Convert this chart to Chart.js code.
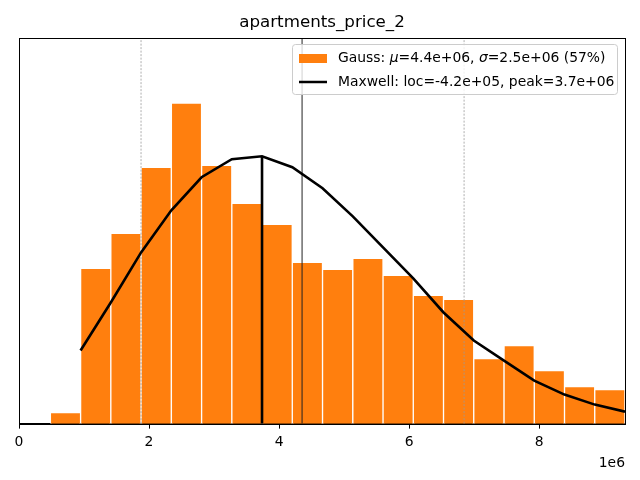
<!DOCTYPE html>
<html>
<head>
<meta charset="utf-8">
<script src="https://cdn.jsdelivr.net/npm/chart.js@4"></script>
<style>
  html, body { margin: 0; padding: 0; background: #fff; }
  canvas { display: block; }
</style>
</head>
<body>
<canvas id="c" width="640" height="480"></canvas>
<script>
// ---- data (x in currency units, heights in relative count units) ----
const binCenters = [0.715e6, 1.180e6, 1.645e6, 2.110e6, 2.576e6, 3.041e6, 3.506e6, 3.971e6, 4.436e6, 4.901e6,
                    5.367e6, 5.832e6, 6.297e6, 6.762e6, 7.227e6, 7.693e6, 8.158e6, 8.623e6, 9.088e6];
const binCounts  = [11, 155, 190, 256, 320, 258, 220, 199, 161, 154, 165, 148, 128, 124, 65, 78, 53, 37, 34];

const curveX = [0.947e6, 1.412e6, 1.878e6, 2.343e6, 2.808e6, 3.273e6, 3.738e6, 4.204e6, 4.669e6, 5.134e6,
                5.599e6, 6.064e6, 6.530e6, 6.995e6, 7.460e6, 7.925e6, 8.390e6, 8.856e6, 9.321e6];
const curveY = [73, 121, 171, 213, 246, 264, 267, 256, 235, 207, 176, 145, 111, 83, 63, 43, 29, 19, 12];

const meanX = 4.354e6;
const sigmaLowX = 1.877e6;
const sigmaHighX = 6.846e6;
const peakX = 3.738e6;
const peakY = 267;

const xTickLabels = [0, 2, 4, 6, 8];   // in units of 1e6
const xMin = 0, xMax = 9.321e6, yMax = 385;

const legendLabels = [
  [["Gauss: ", false], ["\u03bc", true], ["=4.4e+06, ", false], ["\u03c3", true], ["=2.5e+06 (57%)", false]],
  [["Maxwell: loc=-4.2e+05, peak=3.7e+06", false]]
];

const FONT = "'DejaVu Sans', sans-serif";
Chart.defaults.font.family = FONT;
Chart.defaults.color = '#000';

const framePlugin = {
  id: 'frame',
  afterDatasetsDraw(chart) {
    const {ctx, chartArea: a} = chart;
    ctx.save();
    ctx.strokeStyle = '#000';
    ctx.lineWidth = 1;
    ctx.strokeRect(Math.round(a.left) + 0.5, Math.round(a.top) + 0.5,
                   Math.round(a.right) - Math.round(a.left), Math.round(a.bottom) - Math.round(a.top));
    ctx.restore();
  }
};

const legendPlugin = {
  id: 'mplLegend',
  afterDraw(chart) {
    const ctx = chart.ctx;
    ctx.save();
    const bx = 292.5, by = 44.5, bw = 325, bh = 50, r = 3;
    ctx.beginPath();
    ctx.moveTo(bx + r, by);
    ctx.arcTo(bx + bw, by, bx + bw, by + bh, r);
    ctx.arcTo(bx + bw, by + bh, bx, by + bh, r);
    ctx.arcTo(bx, by + bh, bx, by, r);
    ctx.arcTo(bx, by, bx + bw, by, r);
    ctx.closePath();
    ctx.fillStyle = 'rgba(255,255,255,0.8)';
    ctx.fill();
    ctx.strokeStyle = '#cccccc';
    ctx.lineWidth = 1;
    ctx.stroke();

    // entry 1: patch
    ctx.fillStyle = '#ff7f0e';
    ctx.fillRect(299, 54, 28, 9);
    // entry 2: line
    ctx.strokeStyle = '#000';
    ctx.lineWidth = 2.5;
    ctx.beginPath();
    ctx.moveTo(299, 82);
    ctx.lineTo(327, 82);
    ctx.stroke();

    ctx.fillStyle = '#000';
    ctx.textBaseline = 'middle';
    const ys = [58.5, 82];
    legendLabels.forEach((parts, i) => {
      let x = 338;
      parts.forEach(([t, it]) => {
        ctx.font = (it ? 'italic ' : '') + '13.9px ' + FONT;
        ctx.fillText(t, x, ys[i]);
        x += ctx.measureText(t).width;
      });
    });
    ctx.restore();
  }
};

const vline = (x, y1, color, width, dash) => ({
  type: 'line',
  data: [{x: x, y: 0}, {x: x, y: y1}],
  borderColor: color,
  borderWidth: width,
  borderDash: dash,
  pointRadius: 0,
  fill: false,
  order: 1
});

new Chart(document.getElementById('c'), {
  data: {
    datasets: [
      {
        type: 'bar',
        data: binCenters.map((x, i) => ({x: x, y: binCounts[i]})),
        backgroundColor: '#ff7f0e',
        borderColor: '#ffffff',
        borderWidth: 1,
        barPercentage: 1,
        categoryPercentage: 1,
        grouped: false,
        order: 5
      },
      vline(sigmaLowX, yMax, '#9a9a9a', 0.8, [2, 1.5]),
      vline(sigmaHighX, yMax, '#9a9a9a', 0.8, [2, 1.5]),
      vline(meanX, yMax, '#222222', 1, []),
      {
        type: 'line',
        data: curveX.map((x, i) => ({x: x, y: curveY[i]})),
        borderColor: '#000',
        borderWidth: 2.6,
        pointRadius: 0,
        tension: 0,
        fill: false,
        order: 0
      },
      Object.assign(vline(peakX, peakY, '#000', 2.6, []), {order: 0})
    ]
  },
  options: {
    responsive: false,
    devicePixelRatio: 1,
    animation: false,
    layout: { padding: { left: 19, right: 15, top: 0, bottom: 8 } },
    plugins: {
      legend: { display: false },
      tooltip: { enabled: false },
      title: {
        display: true,
        text: 'apartments_price_2',
        font: { size: 16.7, weight: 'normal' },
        color: '#000',
        padding: { top: 13, bottom: 5 }
      }
    },
    scales: {
      x: {
        type: 'linear',
        min: xMin,
        max: xMax,
        offset: false,
        afterBuildTicks(scale) {
          scale.ticks = xTickLabels.map(v => ({value: v * 1e6}));
        },
        ticks: {
          font: { size: 13.9 },
          color: '#000',
          padding: 5,
          maxRotation: 0,
          callback: v => String(v / 1e6)
        },
        grid: { display: true, offset: false, drawOnChartArea: false, drawTicks: true, tickLength: 5, color: '#000', tickWidth: 1 },
        border: { display: true, color: '#000', width: 1 },
        title: {
          display: true,
          text: '1e6',
          align: 'end',
          font: { size: 13.9 },
          color: '#000',
          padding: { top: 0, bottom: 0 }
        }
      },
      y: {
        display: false,
        min: 0,
        max: yMax
      }
    }
  },
  plugins: [framePlugin, legendPlugin]
});
</script>
</body>
</html>
